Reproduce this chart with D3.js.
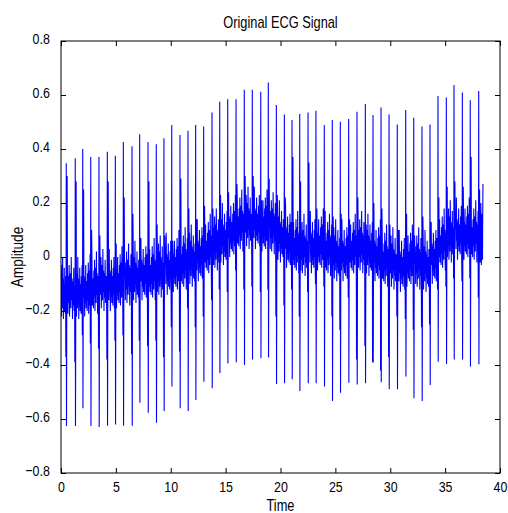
<!DOCTYPE html>
<html>
<head>
<meta charset="utf-8">
<script src="https://cdn.jsdelivr.net/npm/d3@7"></script>
<style>
	body { margin: 0; background: #fff; }
	text { font-family: "Liberation Sans", Arial, sans-serif; fill: #000; }
</style>
</head>
<body>
<script>
// beat times (s), with R peak / S trough / extra spikes
var beatTimes = [0.48, 1.30, 1.98, 2.71, 3.46, 4.22, 4.95, 5.68, 6.47, 7.17, 7.93, 8.68, 9.38,
	10.09, 10.84, 11.57, 12.27, 13.00, 13.76, 14.46, 15.19, 15.95, 16.70, 17.43, 18.20, 18.89,
	19.62, 20.35, 21.05, 21.75, 22.51, 23.23, 23.99, 24.72, 25.45, 26.21, 26.97, 27.73, 28.43, 29.16,
	29.89, 30.64, 31.41, 32.14, 32.89, 33.62, 34.35, 35.11, 35.81, 36.57, 37.29, 38.06];
var rPeaks = [0.347, 0.366, 0.40, 0.37, 0.37, 0.39, 0.375, 0.426, 0.41, 0.455, 0.426, 0.418, 0.44,
	0.489, 0.452, 0.468, 0.489, 0.483, 0.535, 0.575, 0.584, 0.584, 0.619, 0.619, 0.612, 0.646,
	0.563, 0.528, 0.507, 0.53, 0.535, 0.542, 0.489, 0.507, 0.501, 0.511, 0.538, 0.567, 0.526, 0.554,
	0.528, 0.491, 0.544, 0.516, 0.483, 0.491, 0.596, 0.591, 0.637, 0.609, 0.581, 0.615];
var sTroughs = [-0.626, -0.626, -0.56, -0.626, -0.63, -0.625, -0.62, -0.625, -0.625, -0.54, -0.577, -0.614, -0.57,
	-0.48, -0.56, -0.57, -0.53, -0.462, -0.486, -0.43, -0.394, -0.39, -0.40, -0.38, -0.375, -0.372,
	-0.47, -0.468, -0.453, -0.496, -0.468, -0.468, -0.48, -0.533, -0.503, -0.466, -0.472, -0.468, -0.391, -0.464,
	-0.49, -0.49, -0.443, -0.523, -0.533, -0.474, -0.388, -0.396, -0.38, -0.38, -0.406, -0.397];
var rPrimes = [0.30, 0.28, 0.25, 0.10, 0.08, 0.28, 0.05, 0.22, 0.16, 0.06, 0.28, 0.12, 0.08,
	0.06, 0.29, 0.18, 0.14, 0.19, 0.18, 0.23, 0.24, 0.27, 0.30, 0.30, 0.21, 0.29,
	0.23, 0.22, 0.37, 0.28, 0.35, 0.18, 0.17, 0.15, 0.16, 0.14, 0.22, 0.12, 0.20, 0.18,
	0.12, 0.10, 0.16, 0.08, 0.15, 0.12, 0.22, 0.26, 0.28, 0.26, 0.37, 0.25];
var qDips = [-0.37, -0.39, -0.29, -0.32, -0.34, -0.38, -0.31, -0.29, -0.36, -0.31, -0.33, -0.31, -0.37,
	-0.26, -0.35, -0.19, -0.26, -0.22, -0.16, -0.12, -0.13, -0.05, -0.12, -0.11, -0.13, -0.12,
	-0.22, -0.18, -0.12, -0.22, -0.13, -0.10, -0.11, -0.22, -0.27, -0.15, -0.38, -0.33, -0.39, -0.42,
	-0.37, -0.22, -0.23, -0.27, -0.26, -0.25, -0.12, -0.11, -0.08, -0.09, -0.08, -0.15];
// centre of the noisy band around each beat
var baseLevels = [-0.13, -0.13, -0.12, -0.11, -0.10, -0.10, -0.09, -0.08, -0.07, -0.06, -0.06, -0.05, -0.04,
	-0.03, -0.02, -0.01, 0.01, 0.03, 0.05, 0.07, 0.10, 0.12, 0.13, 0.13, 0.12, 0.11,
	0.08, 0.06, 0.04, 0.03, 0.04, 0.05, 0.03, 0.01, 0.01, 0.03, 0.04, 0.03, 0.01, -0.01,
	-0.02, -0.03, -0.01, -0.02, -0.03, 0.00, 0.05, 0.08, 0.09, 0.09, 0.08, 0.07];
// small ripple seen inside the band, offsets from its centre
var ripple = [0.03, -0.08, 0.06, -0.04, 0.10, -0.09, 0.02, 0.07, -0.06, 0.13, -0.03, 0.05, -0.10, 0.04, -0.05, 0.09, -0.07, 0.02];
var signalEnd = [38.45, 0.27];

var xTicks = [0, 5, 10, 15, 20, 25, 30, 35, 40];
var yTicks = [-0.8, -0.6, -0.4, -0.2, 0, 0.2, 0.4, 0.6, 0.8];

var W = 508, H = 513;
var margin = {top: 41, right: 8, bottom: 40, left: 61},
	width = W - margin.left - margin.right,
	height = H - margin.top - margin.bottom;

var svg = d3.select("body").append("svg")
	.attr("width", W)
	.attr("height", H);

var x = d3.scaleLinear().domain([0, 40]).range([margin.left, margin.left + width]);
var y = d3.scaleLinear().domain([-0.8, 0.8]).range([margin.top + height, margin.top]);

// build the trace from the beat tables
var pts = [];
function addRipple(t0, t1, b, shift)
{
	var n = ripple.length;
	for (var k = 0; k < n; k++)
	{
		pts.push([t0 + (t1 - t0) * k / (n - 1), b + ripple[(k + shift) % n]]);
	}
}
addRipple(0, beatTimes[0] - 0.06, baseLevels[0], 3);
for (var i = 0; i < beatTimes.length; i++)
{
	var t = beatTimes[i], b = baseLevels[i];
	pts.push([t - 0.04, qDips[i]]);
	pts.push([t - 0.015, b]);
	pts.push([t, rPeaks[i]]);
	pts.push([t + 0.02, sTroughs[i]]);
	pts.push([t + 0.05, b]);
	pts.push([t + 0.08, rPrimes[i]]);
	var tEnd = i < beatTimes.length - 1 ? beatTimes[i + 1] - 0.06 : signalEnd[0] - 0.03;
	addRipple(t + 0.11, tEnd, b, (i * 5) % ripple.length);
}
pts.push(signalEnd);

svg.append("clipPath").attr("id", "plotClip")
	.append("rect")
	.attr("x", margin.left).attr("y", margin.top)
	.attr("width", width).attr("height", height);

svg.append("path")
	.datum(pts)
	.attr("clip-path", "url(#plotClip)")
	.attr("fill", "none")
	.attr("stroke", "#0000ff")
	.attr("stroke-width", 1.1)
	.attr("d", d3.line().x(function(d){return x(d[0]);}).y(function(d){return y(d[1]);}));

// axes, ticks pointing inwards on all four sides
function fmt(d){ return d3.format("")(Math.round(d * 10) / 10); }

var axes = svg.append("g").attr("class", "axes");
var bottom = axes.append("g")
	.attr("transform", "translate(0," + (margin.top + height) + ")")
	.call(d3.axisBottom(x).tickValues(xTicks).tickSize(-5).tickPadding(8).tickFormat(d3.format("d")));
axes.append("g")
	.attr("transform", "translate(0," + margin.top + ")")
	.call(d3.axisTop(x).tickValues(xTicks).tickSize(-5).tickFormat(""));
var left = axes.append("g")
	.attr("transform", "translate(" + margin.left + ",0)")
	.call(d3.axisLeft(y).tickValues(yTicks).tickSize(-5).tickPadding(7).tickFormat(fmt));
axes.append("g")
	.attr("transform", "translate(" + (margin.left + width) + ",0)")
	.call(d3.axisRight(y).tickValues(yTicks).tickSize(-5).tickFormat(""));

axes.selectAll(".domain").remove();
axes.selectAll(".tick line").attr("stroke", "#000");
axes.selectAll(".tick text")
	.attr("font-family", "Liberation Sans, Arial, sans-serif")
	.attr("font-size", 15.5)
	.attr("fill", "#000");

// narrow the tick labels like the original
bottom.selectAll(".tick text").attr("transform", "scale(0.8,1)").attr("x", 0);
left.selectAll(".tick text").attr("transform", "translate(-4,-2) scale(0.8,1)").attr("x", -9);

svg.append("rect")
	.attr("x", margin.left).attr("y", margin.top)
	.attr("width", width).attr("height", height)
	.attr("fill", "none")
	.attr("stroke", "#000")
	.attr("stroke-width", 1);

svg.append("text")
	.attr("transform", "translate(" + (margin.left + width / 2) + ",28) scale(0.8,1)")
	.attr("text-anchor", "middle")
	.attr("font-size", 16)
	.text("Original ECG Signal");

svg.append("text")
	.attr("transform", "translate(" + (margin.left + width / 2) + ",511) scale(0.8,1)")
	.attr("text-anchor", "middle")
	.attr("font-size", 16)
	.text("Time");

svg.append("text")
	.attr("transform", "translate(23," + (margin.top + height / 2) + ") rotate(-90) scale(0.85,1)")
	.attr("text-anchor", "middle")
	.attr("font-size", 16)
	.text("Amplitude");
</script>
</body>
</html>
